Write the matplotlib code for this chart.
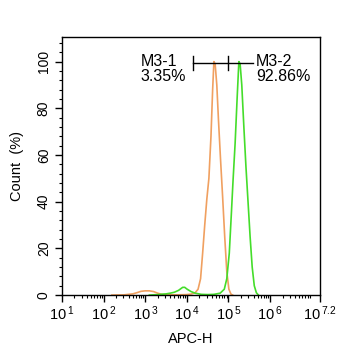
import numpy as np
import matplotlib.pyplot as plt
from matplotlib.ticker import FixedLocator, LogLocator, MultipleLocator, NullFormatter

plt.rcParams['font.family'] = ['Liberation Sans', 'DejaVu Sans']

# orange histogram (log10 APC-H, count %)
orange_logx = [2.2, 2.5, 2.7, 2.8, 2.9, 3.0, 3.1, 3.2, 3.3, 3.4, 3.6, 3.8, 4.0, 4.1, 4.2,
               4.27, 4.33, 4.38, 4.43, 4.48, 4.53, 4.58, 4.62, 4.65, 4.68, 4.72,
               4.76, 4.81, 4.86, 4.91, 4.96, 5.01, 5.06, 5.1]
orange_y = [0.0, 0.1, 0.5, 1.0, 1.6, 1.8, 1.8, 1.5, 0.8, 0.3, 0.1, 0.1, 0.2, 0.4, 1.0,
            2.5, 7.0, 18.0, 30.0, 41.0, 50.0, 68.0, 88.0, 100.0, 99.0, 90.0,
            75.0, 58.0, 42.0, 25.0, 10.0, 2.5, 0.4, 0.0]

# green histogram
green_logx = [3.1, 3.3, 3.5, 3.6, 3.7, 3.8, 3.9, 3.95, 4.0, 4.1, 4.2, 4.35, 4.5, 4.65, 4.8,
              4.9, 4.96, 5.02, 5.07, 5.11, 5.16, 5.21, 5.25, 5.28, 5.32, 5.37,
              5.42, 5.47, 5.52, 5.57, 5.62, 5.67, 5.72]
green_y = [0.0, 0.2, 0.5, 0.8, 1.2, 2.0, 3.3, 3.3, 2.6, 1.5, 0.8, 0.3, 0.2, 0.3, 0.8,
           2.5, 7.0, 18.0, 35.0, 49.0, 65.0, 85.0, 100.0, 99.0, 90.0, 72.0,
           55.0, 40.0, 25.0, 12.0, 4.0, 1.0, 0.0]

orange = '#F0A060'
green = '#44DD2A'

# gates: (left, right) on APC-H
gate1 = (1.4e4, 1.0e5)
gate2 = (1.0e5, 3.9e5)
gate_y = 99.5
gate_names = ['M3-1', 'M3-2']
gate_pcts = ['3.35%', '92.86%']

fig = plt.figure(figsize=(3.46, 3.5), dpi=100)
ax = fig.add_axes([0.179, 0.157, 0.746, 0.737])

ax.plot(10 ** np.array(orange_logx), orange_y, color=orange, lw=1.2)
ax.plot(10 ** np.array(green_logx), green_y, color=green, lw=1.2)

# gate markers
ax.plot([gate1[0], gate2[1]], [gate_y, gate_y], color='black', lw=1)
for gx in [gate1[0], gate1[1]]:
    ax.plot([gx, gx], [gate_y - 3, gate_y + 3], color='black', lw=1)
for tx, name, pct in zip([7.7e2, 4.6e5], gate_names, gate_pcts):
    ax.text(tx, 98.0, name, ha='left', va='baseline', fontsize=11.5)
    ax.text(tx, 91.5, pct, ha='left', va='baseline', fontsize=11.5)

ax.set_xscale('log')
ax.set_xlim(10 ** 1, 10 ** 7.2)
ax.set_ylim(0, 110.5)

ticks = [10 ** k for k in [1, 2, 3, 4, 5, 6, 7.2]]
ax.xaxis.set_major_locator(FixedLocator(ticks))
ax.set_xticklabels([r'$\mathregular{10^{\,1}}$', r'$\mathregular{10^{\,2}}$',
                    r'$\mathregular{10^{\,3}}$', r'$\mathregular{10^{\,4}}$',
                    r'$\mathregular{10^{\,5}}$', r'$\mathregular{10^{\,6}}$',
                    r'$\mathregular{10^{\,7.2}}$'])
ax.xaxis.set_minor_locator(LogLocator(base=10, subs=np.arange(2, 10), numticks=20))
ax.xaxis.set_minor_formatter(NullFormatter())

ax.yaxis.set_major_locator(FixedLocator([0, 20, 40, 60, 80, 100]))
ax.yaxis.set_minor_locator(MultipleLocator(4))
for lab in ax.get_yticklabels():
    lab.set_rotation(90)
    lab.set_va('center')

ax.tick_params(axis='both', which='major', direction='out', length=5, width=1)
ax.tick_params(axis='x', which='major', labelsize=10.5, pad=2)
ax.tick_params(axis='y', which='major', labelsize=10, pad=3)
ax.tick_params(axis='both', which='minor', direction='out', length=2.5, width=0.8)

for s in ax.spines.values():
    s.set_linewidth(1)

ax.set_xlabel('APC-H', fontsize=10.5, labelpad=6)
ax.set_ylabel('Count  (%)', fontsize=10.5, labelpad=9)

fig.savefig('out.png', dpi=100)
